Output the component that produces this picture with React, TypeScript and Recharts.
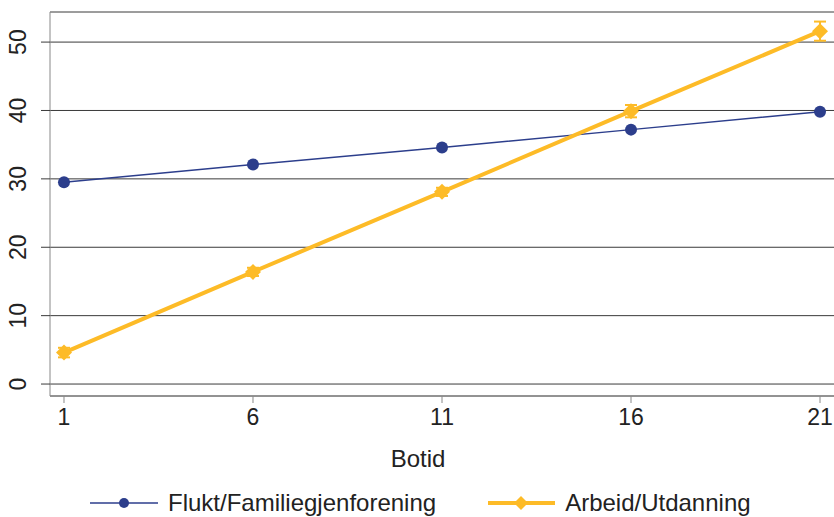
import { LineChart, Line, XAxis, YAxis, CartesianGrid, Legend, ErrorBar } from 'recharts';

const botid = [1, 6, 11, 16, 21];
const flukt = [29.5, 32.1, 34.6, 37.2, 39.8];
const fluktErr = [0.4, 0.3, 0.3, 0.3, 0.4];
const arbeid = [4.6, 16.4, 28.1, 39.9, 51.6];
const arbeidErr = [0.7, 0.6, 0.6, 0.9, 1.4];
const yTicks = [0, 10, 20, 30, 40, 50];

const BLUE = '#2C3E8C';
const YELLOW = '#FDBB27';
const FONT = '"Liberation Sans", Arial, sans-serif';
const INK = '#222';

const data = botid.map((b, i) => ({
  botid: b,
  flukt: flukt[i],
  fluktErr: fluktErr[i],
  arbeid: arbeid[i],
  arbeidErr: arbeidErr[i],
}));

// y labels are drawn sideways, left of the tick marks
const YTick = ({ y, payload }: any) => (
  <text
    x={18}
    y={y}
    transform={`rotate(-90 18 ${y})`}
    textAnchor="middle"
    dominantBaseline="central"
    fontSize={23}
    fontFamily={FONT}
    fill={INK}
  >
    {payload.value}
  </text>
);

const Diamond = ({ cx, cy }: any) => {
  if (cx == null || cy == null) return null;
  const r = 8;
  return (
    <polygon
      points={`${cx},${cy - r} ${cx + r},${cy} ${cx},${cy + r} ${cx - r},${cy}`}
      fill={YELLOW}
    />
  );
};

const LegendBox = () => (
  <div
    style={{
      display: 'flex',
      alignItems: 'center',
      paddingLeft: 90,
      paddingTop: 6,
      fontFamily: FONT,
      fontSize: 24,
      color: INK,
    }}
  >
    <svg width={68} height={16}>
      <line x1={0} y1={8} x2={68} y2={8} stroke={BLUE} strokeWidth={1.5} />
      <circle cx={34} cy={8} r={5} fill={BLUE} />
    </svg>
    <span style={{ marginLeft: 10 }}>Flukt/Familiegjenforening</span>
    <svg width={67} height={16} style={{ marginLeft: 52 }}>
      <line x1={0} y1={8} x2={67} y2={8} stroke={YELLOW} strokeWidth={4} />
      <polygon points="33,1 40,8 33,15 26,8" fill={YELLOW} />
    </svg>
    <span style={{ marginLeft: 10 }}>Arbeid/Utdanning</span>
  </div>
);

export default function App() {
  return (
    <div style={{ position: 'absolute', left: 0, top: 0, background: '#fff' }}>
      <LineChart
        width={834}
        height={517}
        data={data}
        margin={{ top: 12, right: 0, left: 0, bottom: 0 }}
      >
        <CartesianGrid vertical={false} stroke="#3a3a3a" strokeWidth={1} />
        <XAxis
          dataKey="botid"
          type="number"
          domain={[0.63, 21.37]}
          ticks={botid}
          height={87}
          tickSize={7}
          tickMargin={6}
          stroke="#888"
          tick={{ fontSize: 23, fontFamily: FONT, fill: INK }}
          label={{
            value: 'Botid',
            position: 'insideBottom',
            offset: 16,
            dx: -24,
            style: { fontSize: 24, fontFamily: FONT, fill: INK },
          }}
        />
        <YAxis
          type="number"
          domain={[-1.75, 54.4]}
          ticks={yTicks}
          width={50}
          tickSize={9}
          axisLine={{ stroke: '#888' }}
          tickLine={{ stroke: '#3a3a3a' }}
          tick={<YTick />}
        />
        <Legend verticalAlign="bottom" height={34} content={<LegendBox />} />
        <Line
          dataKey="flukt"
          stroke={BLUE}
          strokeWidth={1.5}
          dot={{ r: 6, fill: BLUE, stroke: 'none' }}
          isAnimationActive={false}
        >
          <ErrorBar dataKey="fluktErr" width={4} stroke={BLUE} strokeWidth={1.5} direction="y" />
        </Line>
        <Line
          dataKey="arbeid"
          stroke={YELLOW}
          strokeWidth={4}
          dot={<Diamond />}
          isAnimationActive={false}
        >
          <ErrorBar dataKey="arbeidErr" width={6} stroke={YELLOW} strokeWidth={2} direction="y" />
        </Line>
      </LineChart>
    </div>
  );
}
